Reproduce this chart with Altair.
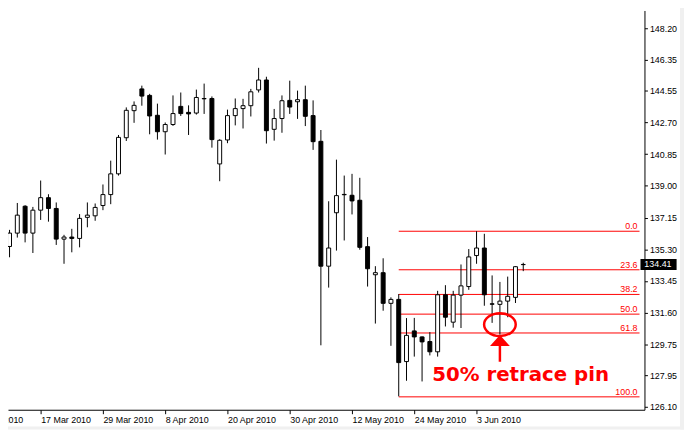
import altair as alt
import pandas as pd

# ---- OHLC data: daily candles from 11 Mar 2010 (index 0) to 11 Jun 2010 (index 66)
opens = [135.46, 136.24, 137.81, 136.24, 137.58, 138.31, 137.68, 135.89, 136.01, 135.93,
         137.16, 137.25, 137.85, 138.49, 139.70, 141.81, 143.39, 144.66, 144.28, 143.12,
         142.16, 142.58, 143.64, 143.29, 143.25, 144.08, 144.10, 140.28, 141.68, 143.10,
         143.51, 143.68, 144.60, 145.18, 142.30, 142.93, 143.99, 143.91, 144.03, 143.10,
         141.60, 134.31, 137.43, 138.50, 138.45, 138.16, 135.45, 133.81, 133.93, 132.14,
         132.37, 128.74, 130.53, 130.18, 129.91, 129.31, 132.64, 131.04, 132.62, 133.12,
         134.93, 135.37, 132.11, 132.08, 132.27, 132.49, 134.40]
highs = [136.43, 138.00, 137.87, 137.77, 139.31, 138.51, 138.03, 136.14, 136.49, 137.35,
         138.03, 137.97, 139.08, 140.47, 141.97, 143.58, 143.93, 144.85, 144.37, 143.80,
         142.70, 144.28, 144.45, 143.70, 144.62, 144.97, 144.22, 141.72, 143.45, 144.10,
         144.08, 144.66, 145.89, 145.37, 143.49, 144.28, 145.14, 144.56, 144.85, 143.99,
         142.26, 138.10, 140.53, 139.60, 139.70, 139.47, 136.01, 134.31, 134.77, 132.49,
         132.68, 131.28, 131.29, 130.21, 130.46, 132.87, 133.20, 132.87, 134.41, 135.31,
         136.35, 136.20, 133.77, 133.39, 133.70, 134.31, 134.51]
lows = [134.83, 135.98, 135.70, 135.08, 137.01, 136.91, 135.55, 134.45, 135.12, 135.41,
        136.58, 136.96, 137.58, 137.93, 139.60, 141.62, 142.68, 143.68, 142.01, 141.70,
        140.83, 142.50, 143.08, 141.97, 143.16, 143.20, 141.23, 139.27, 141.49, 142.53,
        142.35, 143.05, 144.45, 141.47, 141.64, 142.10, 143.20, 142.91, 142.49, 141.10,
        129.69, 133.06, 135.22, 135.81, 137.33, 135.27, 133.12, 130.96, 131.71, 129.66,
        126.71, 127.62, 129.03, 127.58, 129.10, 129.03, 130.79, 130.72, 130.70, 132.93,
        134.45, 132.00, 131.00, 130.31, 131.33, 132.16, 134.02]
closes = [136.24, 137.29, 136.24, 137.58, 138.31, 137.68, 135.89, 136.01, 135.93, 137.10,
          137.29, 137.74, 138.49, 139.70, 141.83, 143.41, 143.70, 144.24, 143.08, 142.16,
          142.58, 143.22, 143.22, 143.20, 144.16, 144.10, 141.70, 141.66, 143.10, 143.51,
          143.68, 144.49, 145.18, 142.22, 142.93, 143.97, 143.60, 144.03, 143.06, 141.58,
          134.31, 135.37, 138.43, 138.48, 138.12, 135.41, 134.16, 133.93, 132.14, 132.37,
          128.68, 130.27, 130.18, 129.89, 129.31, 132.64, 131.33, 132.62, 133.16, 134.85,
          135.37, 132.64, 132.09, 132.27, 132.55, 134.28, 134.41]

# ---- axis ticks
x_tick_idx = [-4, 4, 12, 20, 28, 36, 44, 52, 60]
x_tick_labels = ["5 Mar 2010", "17 Mar 2010", "29 Mar 2010", "8 Apr 2010", "20 Apr 2010",
                 "30 Apr 2010", "12 May 2010", "24 May 2010", "3 Jun 2010"]
y_ticks = [126.10, 127.95, 129.75, 131.60, 133.45, 135.30, 137.15, 139.00, 140.85,
           142.70, 144.55, 146.35, 148.20]

# ---- Fibonacci retracement
fib_names = ["0.0", "23.6", "38.2", "50.0", "61.8", "100.0"]
fib_prices = [136.35, 134.10, 132.66, 131.51, 130.41, 126.68]
fib_start = 50
last_price = 134.41

# ---- annotation
note_text = "50% retrace pin"
pin_index = 63

X0, X1 = 0.4375, 80.9375
Y0, Y1 = 125.927, 149.239
W, H = 644, 404
TICK, LPAD = 4, 2

df = pd.DataFrame({"i": list(range(len(opens))), "open": opens, "high": highs,
                   "low": lows, "close": closes})
df["dir"] = ["up" if c >= o else "down" for o, c in zip(opens, closes)]

xs = alt.Scale(domain=[X0, X1], zero=False, nice=False)
ys = alt.Scale(domain=[Y0, Y1], zero=False, nice=False)

in_idx = [v for v in x_tick_idx if v >= X0]
in_lab = [l for v, l in zip(x_tick_idx, x_tick_labels) if v >= X0]
out_idx = [v for v in x_tick_idx if v < X0]
out_lab = [l for v, l in zip(x_tick_idx, x_tick_labels) if v < X0]
label_expr = ("[" + ",".join("'%s'" % l for l in in_lab) + "][indexof(["
              + ",".join(str(v) for v in in_idx) + "], datum.value)]")

FONT = "Liberation Sans"
x_axis = alt.Axis(values=in_idx, labelExpr=label_expr, title=None, grid=False,
                  orient="bottom", tickSize=TICK, labelPadding=LPAD, labelAlign="left",
                  labelFont=FONT, labelFontSize=9, labelColor="black",
                  domainColor="black", tickColor="black", labelFlush=False,
                  labelOverlap=False)
y_axis = alt.Axis(values=y_ticks, format=".2f", title=None, grid=False, orient="right",
                  tickSize=3, labelPadding=2, labelFont=FONT, labelFontSize=9,
                  labelColor="black", domainColor="black", tickColor="black",
                  labelFlush=False, labelOverlap=False)

X = alt.X("i:Q", scale=xs, axis=x_axis)
Y = alt.Y("p:Q", scale=ys, axis=y_axis)

base = alt.Chart(df)

wicks = base.mark_rule(color="black", strokeWidth=1, clip=True).encode(
    x=X, y=alt.Y("low:Q", scale=ys, axis=y_axis), y2="high:Q")

bodies = base.mark_bar(width=4, stroke="black", strokeWidth=1, clip=True).encode(
    x=X, y=alt.Y("open:Q", scale=ys, axis=y_axis), y2="close:Q",
    fill=alt.Fill("dir:N", scale=alt.Scale(domain=["up", "down"], range=["white", "black"]),
                  legend=None))

fib_df = pd.DataFrame({"i": [fib_start] * len(fib_prices), "i2": [X1] * len(fib_prices),
                       "p": fib_prices, "name": fib_names})
fib_lines = alt.Chart(fib_df).mark_rule(color="#ff0000", strokeWidth=1).encode(
    x=X, x2="i2:Q", y=Y)
fib_labels = alt.Chart(fib_df).mark_text(
    align="right", baseline="alphabetic", dx=-2, dy=-2, font=FONT, fontSize=9,
    color="#ff0000").encode(x=alt.X("i2:Q", scale=xs, axis=x_axis), y=Y, text="name:N")

# last price marker on the axis
lp_df = pd.DataFrame({"i": [81.06], "i2": [85.7], "p": [last_price - 0.32],
                      "p2": [last_price + 0.32], "t": [last_price], "lab": ["%.2f" % last_price],
                      "it": [81.56]})
lp_box = alt.Chart(lp_df).mark_rect(color="black").encode(
    x=X, x2="i2:Q", y=Y, y2="p2:Q")
lp_text = alt.Chart(lp_df).mark_text(align="left", baseline="middle", font=FONT,
                                     fontSize=9, color="white").encode(
    x=alt.X("it:Q", scale=xs, axis=x_axis), y=alt.Y("t:Q", scale=ys, axis=y_axis),
    text="lab:N")

# partial first date label at the cut-off left edge (same row as the axis labels)
first_df = pd.DataFrame({"i": out_idx, "lab": out_lab})
first_lab = alt.Chart(first_df).mark_text(align="left", baseline="top", font=FONT,
                                          fontSize=9, color="black").encode(
    x=X, y=alt.value(H + TICK + LPAD), text="lab:N")

# annotation: ellipse, arrow, text
ell_df = pd.DataFrame({"i": [pin_index], "p": [130.90]})
ellipse = alt.Chart(ell_df).mark_point(
    shape="M-1,0A1,0.72,0,1,0,1,0A1,0.72,0,1,0,-1,0Z", size=1024, filled=False,
    stroke="#ff0000", strokeWidth=2.5, opacity=1).encode(x=X, y=Y)

head_df = pd.DataFrame({"i": [pin_index], "p": [129.97]})
head = alt.Chart(head_df).mark_point(
    shape="M0,-0.55L1,0.55L-1,0.55Z", size=400, filled=True, fill="#ff0000",
    strokeWidth=0, opacity=1).encode(x=X, y=Y)

shaft_df = pd.DataFrame({"i": [pin_index], "p": [129.70], "p2": [128.73]})
shaft = alt.Chart(shaft_df).mark_rule(color="#ff0000", strokeWidth=2.5).encode(
    x=X, y=Y, y2="p2:Q")

txt_df = pd.DataFrame({"i": [54.31], "p": [127.58], "lab": [note_text]})
note = alt.Chart(txt_df).mark_text(align="left", baseline="alphabetic",
                                   font="DejaVu Sans", fontSize=20, fontWeight="bold",
                                   color="#ff0000").encode(x=X, y=Y, text="lab:N")

# light window frame at the bottom and right edges
frame_b = alt.Chart(pd.DataFrame({"a": [0]})).mark_rect(color="#f0f0f0").encode(
    x=alt.value(-8), x2=alt.value(684), y=alt.value(421), y2=alt.value(424))
frame_r = alt.Chart(pd.DataFrame({"a": [0]})).mark_rect(color="#f0f0f0").encode(
    x=alt.value(680), x2=alt.value(684), y=alt.value(-8), y2=alt.value(424))

chart = alt.layer(
    fib_lines, wicks, bodies, fib_labels, lp_box, lp_text, first_lab,
    ellipse, head, shaft, note, frame_b, frame_r
).properties(
    width=W, height=H,
    autosize=alt.AutoSizeParams(type="none"),
    padding={"left": 0, "top": 0, "right": 40, "bottom": 20},
    background="white",
).configure_view(strokeWidth=0).configure_axis(grid=False)

chart.save("out.html", embed_options={"renderer": "svg", "actions": False})
